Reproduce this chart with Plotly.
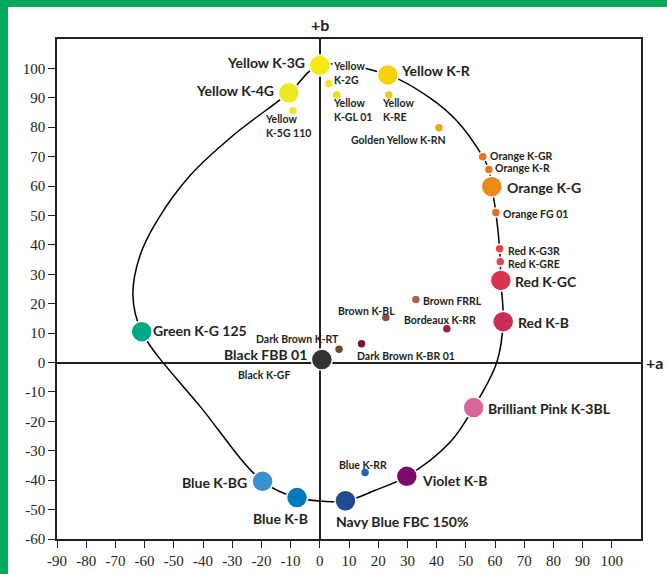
import plotly.graph_objects as go

# ---------------- data ----------------
dyes = [
    "Yellow K-3G", "Yellow K-R", "Yellow K-4G", "Yellow K-2G", "Yellow K-GL 01",
    "Yellow K-RE", "Yellow K-5G 110", "Golden Yellow K-RN", "Orange K-GR",
    "Orange K-R", "Orange K-G", "Orange FG 01", "Red K-G3R", "Red K-GRE",
    "Red K-GC", "Red K-B", "Brown FRRL", "Brown K-BL", "Bordeaux K-RR",
    "Dark Brown K-RT", "Dark Brown K-BR 01", "Black K-GF", "Black FBB 01",
    "Green K-G 125", "Brilliant Pink K-3BL", "Blue K-RR", "Violet K-B",
    "Blue K-BG", "Blue K-B", "Navy Blue FBC 150%",
]
a_star = [0.0, 23.3, -10.6, 3.1, 5.8, 23.6, -9.2, 40.8, 55.8, 57.9, 58.9, 60.3,
          61.6, 61.8, 62.0, 62.8, 32.9, 22.6, 43.5, 6.6, 14.3, 0.5, 0.7,
          -61.0, 52.7, 15.5, 29.8, -19.6, -7.8, 8.8]
b_star = [101.0, 97.8, 91.7, 94.8, 91.0, 91.0, 85.6, 79.8, 70.0, 65.6, 59.8, 51.0,
          38.7, 34.3, 27.9, 13.9, 21.4, 15.3, 11.5, 4.5, 6.4, 0.5, 1.0,
          10.5, -15.3, -37.4, -38.7, -40.4, -45.9, -47.0]

# gamut boundary path
gamut_a = [-61.0, -64.0, -61.6, -55.5, -44.5, -29.8, -10.6, 0.0, 23.3, 37.7, 46.9,
           55.8, 57.9, 58.9, 60.3, 61.6, 61.8, 62.0, 62.8, 60.6, 52.7, 44.5,
           29.8, 18.8, 8.8, -7.8, -19.6, -40.5, -61.0]
gamut_b = [10.5, 22.8, 36.3, 48.6, 63.5, 77.1, 91.7, 101.0, 97.8, 90.0, 82.2,
           70.0, 65.6, 59.8, 51.0, 38.7, 34.3, 27.9, 13.9, 0.0, -15.3, -27.2,
           -38.7, -43.5, -47.0, -45.9, -40.4, -15.5, 10.5]

x_ticks = list(range(-90, 101, 10))
y_ticks = list(range(-60, 101, 10))
x_tick_text = [str(v) for v in x_ticks]
y_tick_text = [str(v) for v in y_ticks]

# ---------------- styles ----------------
colors = {
    "Yellow K-3G": "#f6ea14", "Yellow K-R": "#f4d10a", "Yellow K-4G": "#eee722",
    "Yellow K-2G": "#f3e41a", "Yellow K-GL 01": "#f4dd12", "Yellow K-RE": "#f2c91c",
    "Yellow K-5G 110": "#f0e52c", "Golden Yellow K-RN": "#eca41b",
    "Orange K-GR": "#e8721f", "Orange K-R": "#e9781c", "Orange K-G": "#ec8a17",
    "Orange FG 01": "#e8691f", "Red K-G3R": "#e2474f", "Red K-GRE": "#e04855",
    "Red K-GC": "#d8344e", "Red K-B": "#cb2d5a", "Brown FRRL": "#a96553",
    "Brown K-BL": "#944a45", "Bordeaux K-RR": "#a11d45", "Dark Brown K-RT": "#6b4b2a",
    "Dark Brown K-BR 01": "#7a1036", "Black K-GF": "#333333", "Black FBB 01": "#333333",
    "Green K-G 125": "#00a886", "Brilliant Pink K-3BL": "#d6679a",
    "Blue K-RR": "#2b5fb2", "Violet K-B": "#7a0d6b", "Blue K-BG": "#3a8fcd",
    "Blue K-B": "#0079bf", "Navy Blue FBC 150%": "#224b8f",
}
big = {"Yellow K-3G", "Yellow K-R", "Yellow K-4G", "Orange K-G", "Red K-GC", "Red K-B",
       "Black FBB 01", "Green K-G 125", "Brilliant Pink K-3BL", "Violet K-B",
       "Blue K-BG", "Blue K-B", "Navy Blue FBC 150%"}
# label placement: (xanchor, xshift px, yshift px, text)
labels = {
    "Yellow K-3G": ("right", -14, 3, None),
    "Yellow K-R": ("left", 12, 4, None),
    "Yellow K-4G": ("right", -14, 2, None),
    "Yellow K-2G": ("left", 3, 11, "Yellow<br>K-2G"),
    "Yellow K-GL 01": ("left", -5, -15, "Yellow<br>K-GL 01"),
    "Yellow K-RE": ("left", -8, -15, "Yellow<br>K-RE"),
    "Yellow K-5G 110": ("left", -29, -15, "Yellow<br>K-5G 110"),
    "Golden Yellow K-RN": ("right", 8, -12, None),
    "Orange K-GR": ("left", 6, 1, None),
    "Orange K-R": ("left", 5, 2, None),
    "Orange K-G": ("left", 14, -1, None),
    "Orange FG 01": ("left", 6, -1, None),
    "Red K-G3R": ("left", 7, -2, None),
    "Red K-GRE": ("left", 7, -2, None),
    "Red K-GC": ("left", 13, -1, None),
    "Red K-B": ("left", 14, -1, None),
    "Brown FRRL": ("left", 6, -1, None),
    "Brown K-BL": ("right", 10, 7, None),
    "Bordeaux K-RR": ("center", -7, 9, None),
    "Dark Brown K-RT": ("right", 1, 10, None),
    "Dark Brown K-BR 01": ("left", -6, -12, None),
    "Black K-GF": ("right", -30, -14, None),
    "Black FBB 01": ("right", -14, 5, None),
    "Green K-G 125": ("left", 10, 1, None),
    "Brilliant Pink K-3BL": ("left", 13, -1, None),
    "Blue K-RR": ("center", -2, 8, None),
    "Violet K-B": ("left", 14, -4, None),
    "Blue K-BG": ("right", -15, -1, None),
    "Blue K-B": ("center", -17, -21, None),
    "Navy Blue FBC 150%": ("left", -11, -21, None),
}

INK = "#231f20"
LABEL_FONT = "Lato"
W, H = 667, 574
ML, MR, MT, MB = 57, 26, 39, 35
PW, PH = W - ML - MR, H - MT - MB
GREEN = "#00aa5b"

fig = go.Figure()
fig.add_trace(go.Scatter(
    x=gamut_a, y=gamut_b, mode="lines",
    line=dict(color="black", width=1.5, shape="spline", smoothing=1.0),
    hoverinfo="skip", showlegend=False))
fig.add_trace(go.Scatter(
    x=a_star, y=b_star, mode="markers", text=dyes, hoverinfo="text",
    marker=dict(color=[colors[d] for d in dyes], opacity=1,
                size=[21 if d in big else 9 for d in dyes],
                line=dict(color="white", width=1.5)),
    showlegend=False))

for d, a, b in zip(dyes, a_star, b_star):
    xa, xs, ys, txt = labels[d]
    isbig = d in big
    fig.add_annotation(
        x=a, y=b, xref="x", yref="y", text=txt or d, showarrow=False,
        xanchor=xa, yanchor="middle", xshift=xs, yshift=ys, align="left",
        font=dict(family=LABEL_FONT, size=14 if isbig else 10.5, color=INK, weight="bold"),
        bgcolor="white" if d == "Yellow K-2G" else None, borderpad=0)

fig.add_annotation(x=0, y=1, xref="x", yref="paper", text="+b", showarrow=False,
                   xanchor="center", yanchor="bottom", yshift=3,
                   font=dict(family=LABEL_FONT, size=16, color=INK, weight="bold"))
fig.add_annotation(x=1, y=0, xref="paper", yref="y", text="+a", showarrow=False,
                   xanchor="left", yanchor="middle", xshift=3,
                   font=dict(family=LABEL_FONT, size=16, color=INK, weight="bold"))

# green frame on top and left edges of the page
def px_x(p):
    return (p - ML) / PW

def px_y(p):
    return (H - MB - p) / PH

fig.add_shape(type="rect", xref="paper", yref="paper", x0=px_x(0), x1=px_x(8),
              y0=px_y(H), y1=px_y(0), fillcolor=GREEN, line_width=0, layer="above")
fig.add_shape(type="rect", xref="paper", yref="paper", x0=px_x(0), x1=px_x(W),
              y0=px_y(7), y1=px_y(0), fillcolor=GREEN, line_width=0, layer="above")

axis_common = dict(
    showgrid=False, zeroline=True, zerolinecolor=INK, zerolinewidth=2,
    showline=True, linecolor=INK, linewidth=1.5, mirror=True, automargin=False,
    ticks="outside", ticklen=7, tickcolor=INK, tickwidth=1,
    tickfont=dict(family="Liberation Serif", size=15, color=INK),
)
fig.update_xaxes(range=[-90, 110], tickvals=x_ticks, ticktext=x_tick_text, **axis_common)
fig.update_yaxes(range=[-60, 110], tickvals=y_ticks, ticktext=y_tick_text, **axis_common)

fig.update_layout(
    width=W, height=H, margin=dict(l=ML, r=MR, t=MT, b=MB, autoexpand=False),
    paper_bgcolor="white", plot_bgcolor="white",
)
fig.write_html("out.html", config={"displayModeBar": False},
               post_script="document.body.style.margin='0';")
